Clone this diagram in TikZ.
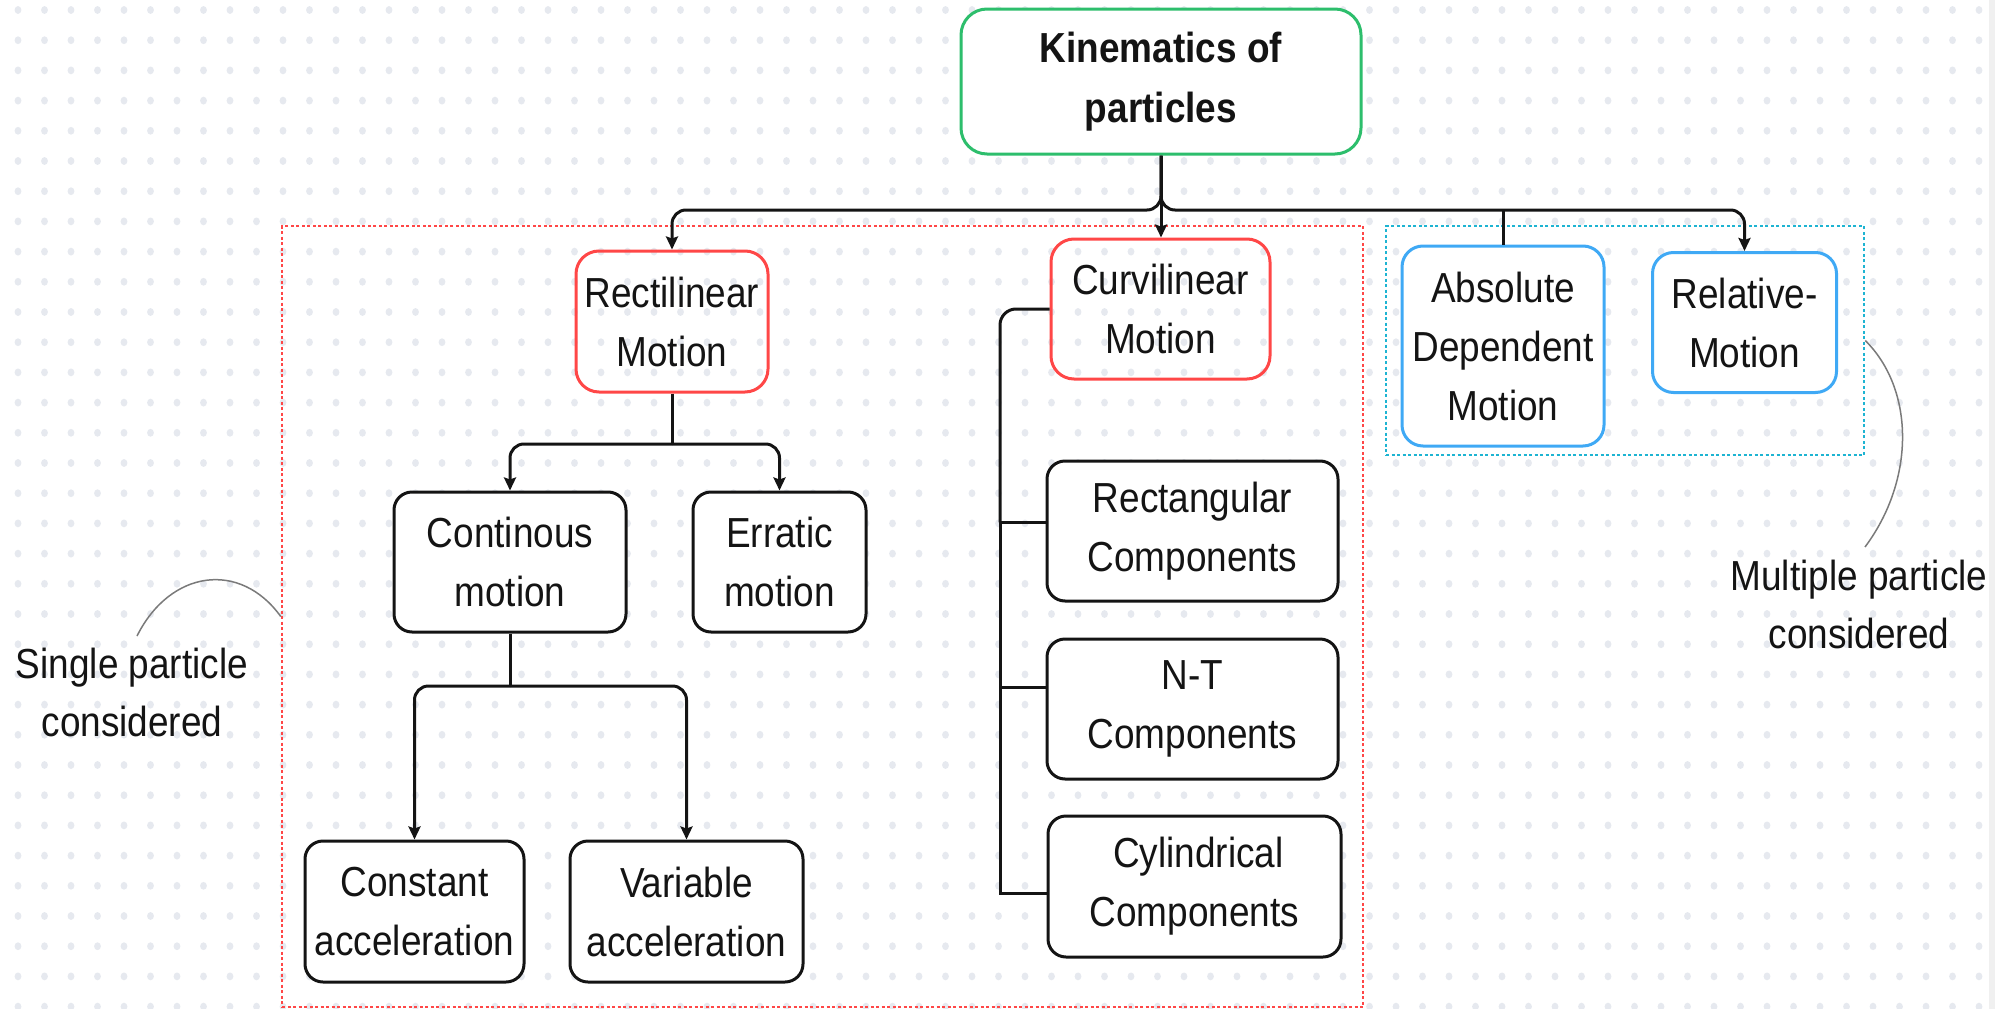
\documentclass[tikz,border=0pt]{standalone}
\usepackage{fontspec}
\setmainfont[FakeStretch=0.88]{Liberation Sans}
\usetikzlibrary{arrows.meta,calc}
\definecolor{kgreen}{HTML}{2DBE6C}
\definecolor{kred}{HTML}{FF4747}
\definecolor{kblue}{HTML}{3FA9F5}
\definecolor{kcyan}{HTML}{1EB4D2}
\definecolor{kdot}{HTML}{E6E9EF}
\definecolor{kgray}{HTML}{7A7A7A}
\definecolor{kink}{HTML}{141414}
\begin{document}
\begin{tikzpicture}[x=1pt,y=-1pt,
  box/.style={line width=3pt, rounded corners=18pt, inner sep=0pt, align=center,
    font=\fontsize{42}{59}\selectfont, text=kink},
  bbox/.style={box, draw=kink, fill=white},
  rbox/.style={box, draw=kred, rounded corners=23pt},
  blbox/.style={box, draw=kblue, fill=white, rounded corners=21pt},
  gbox/.style={box, draw=kgreen, fill=white, rounded corners=26pt,
    font=\fontsize{42}{60}\selectfont\bfseries},
  frame/.style={line width=2.5pt, dash pattern=on 3pt off 2.5pt, inner sep=0pt},
  conn/.style={line width=3pt, draw=kink},
  arr/.style={conn, -{Stealth[length=13pt,width=12pt,inset=2pt]}},
  lbl/.style={align=center, inner sep=0pt, font=\fontsize{42}{58}\selectfont, text=kink},
  ann/.style={line width=1.5pt, draw=kgray}
]
\useasboundingbox (0,0) rectangle (1995,1009);
\fill[white] (0,0) rectangle (1995,1009);
% dot grid
\foreach \i in {0,...,75}{
  \foreach \j in {0,...,33}{
    \fill[kdot] (18+26.5*\i, 10+30.2*\j) ellipse [x radius=3.4pt, y radius=3.9pt];
  }
}
\fill[gray!12] (1989,0) rectangle (1995,1009);

% group frames
\node[frame, draw=kred, minimum width=1081pt, minimum height=781pt] (grpS) at (822.5,616.5) {};
\node[frame, draw=kcyan, minimum width=478pt, minimum height=229pt] (grpM) at (1625,340.5) {};

% nodes
\node[gbox, minimum width=400pt, minimum height=145pt] (kin) at (1161,81.5) {Kinematics of\\particles};
\node[rbox, minimum width=192pt, minimum height=141pt] (rect) at (672,321.5) {Rectilinear\\Motion};
\node[rbox, minimum width=219pt, minimum height=140pt] (curv) at (1160.5,309) {Curvilinear\\Motion};
\node[blbox, minimum width=202pt, minimum height=200pt] (absdep) at (1503,346) {Absolute\\Dependent\\Motion};
\node[blbox, minimum width=184pt, minimum height=140pt] (relmot) at (1744.5,322.5) {Relative-\\Motion};
\node[bbox, minimum width=232pt, minimum height=140pt] (cont) at (510,562) {Continous\\motion};
\node[bbox, minimum width=173pt, minimum height=140pt] (err) at (779.5,562) {Erratic\\motion};
\node[bbox, minimum width=219pt, minimum height=141pt] (const) at (414.5,911.5) {Constant\\acceleration};
\node[bbox, minimum width=233pt, minimum height=141pt] (var) at (686.5,911.5) {Variable\\acceleration};
\node[bbox, minimum width=291pt, minimum height=140pt] (rectc) at (1192.5,531) {Rectangular\\Components};
\node[bbox, minimum width=291pt, minimum height=140pt] (ntc) at (1192.5,709) {N-T\\Components};
\node[bbox, minimum width=293pt, minimum height=141pt] (cylc) at (1194.5,886.5) {\hspace*{8pt}Cylindrical\\Components};

% labels
\node[lbl] (single) at (132,692) {Single particle\\considered};
\node[lbl] (multi) at (1859,604.5) {Multiple particle\\considered};

% top bus
\coordinate (bus) at (1161,210);
\draw[arr, rounded corners=14pt] (kin.south) -- (bus) -| (rect.north);
\draw[arr, rounded corners=14pt] (kin.south) -- (bus) -| (relmot.north);
\draw[arr] (kin.south) -- (kin.south |- curv.north);
\draw[conn] (absdep.north |- bus) -- (absdep.north);

% rectilinear branch
\coordinate (jr) at (672,444);
\draw[conn] (rect.south) -- (jr);
\draw[arr, rounded corners=14pt] (jr) -| (cont.north);
\draw[arr, rounded corners=14pt] (jr) -| (err.north);

% continuous branch
\coordinate (jc) at (510,686);
\draw[conn] (cont.south) -- (jc);
\draw[arr, rounded corners=14pt] (jc) -| (const.north);
\draw[arr, rounded corners=14pt] (jc) -| (var.north);

% curvilinear branch
\coordinate (cvx) at (1000,0);
\coordinate (tR) at ($(rectc.north west)!0.44!(rectc.south west)$);
\coordinate (tN) at ($(ntc.north west)!0.35!(ntc.south west)$);
\coordinate (tC) at ($(cylc.north west)!0.55!(cylc.south west)$);
\draw[conn, rounded corners=16pt] (curv.west) -| (tR -| cvx);
\draw[conn] (tR -| cvx) -- (tC -| cvx) -- (tC);
\draw[conn] (tR -| cvx) -- (tR);
\draw[conn] (tN -| cvx) -- (tN);

% annotation curves
\coordinate (sa) at (137,636);
\draw[ann] (sa) .. controls (170,570) and (240,560) .. (grpS.west);
\coordinate (mb) at (1865,547);
\draw[ann] (grpM.east) .. controls (1915,390) and (1915,480) .. (mb);
\end{tikzpicture}
\end{document}
